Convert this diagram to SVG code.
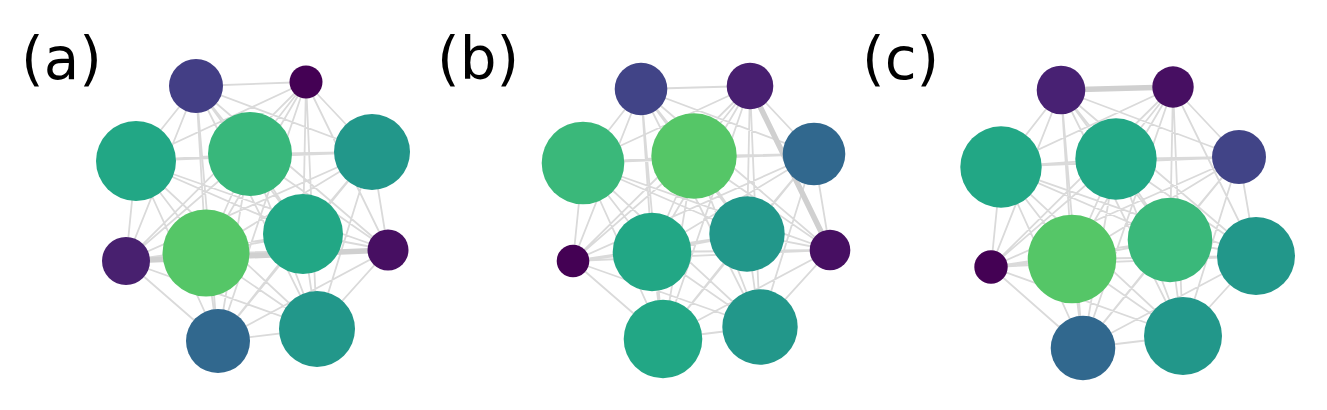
<svg xmlns="http://www.w3.org/2000/svg" width="1327" height="410" viewBox="0 0 1327 410">
<style>
.e{fill:none;stroke:#dadada;stroke-width:1.8;stroke-linecap:round}
.t{fill:none;stroke:#d0d0d0;stroke-width:5.5;stroke-linecap:round}
.lbl{font-family:"DejaVu Sans",sans-serif;font-size:58px;fill:#000}
</style>
<rect width="1327" height="410" fill="#fff"/>
<g id="labels">
<text class="lbl" x="21" y="79">(a)</text>
<text class="lbl" x="437" y="79">(b)</text>
<text class="lbl" x="862" y="79">(c)</text>
</g>
<g id="connectors">
<path class="e" d="M196 86L306 82M196 86L136 161M196 86L250 154M196 86L372 152M196 86L126 261M196 86L206 253M196 86L303 234M196 86L388 250M196 86L218 341M196 86L317 329M306 82L136 161M306 82L250 154M306 82L372 152M306 82L126 261M306 82L206 253M306 82L303 234M306 82L388 250M306 82L218 341M306 82L317 329M136 161L250 154M136 161L372 152M136 161L126 261M136 161L206 253M136 161L303 234M136 161L388 250M136 161L218 341M136 161L317 329M250 154L372 152M250 154L126 261M250 154L206 253M250 154L303 234M250 154L388 250M250 154L218 341M250 154L317 329M372 152L126 261M372 152L206 253M372 152L303 234M372 152L388 250M372 152L218 341M372 152L317 329M126 261L206 253M126 261L303 234M126 261L218 341M126 261L317 329M206 253L303 234M206 253L388 250M206 253L218 341M206 253L317 329M303 234L388 250M303 234L218 341M303 234L317 329M388 250L218 341M388 250L317 329M218 341L317 329"/>
<path class="t" d="M126 261L388 250"/>
<path class="e" d="M641 89L750 86M641 89L583 163M641 89L694 156M641 89L814 154M641 89L573 261M641 89L652 252M641 89L747 234M641 89L830 250M641 89L663 339M641 89L760 327M750 86L583 163M750 86L694 156M750 86L814 154M750 86L573 261M750 86L652 252M750 86L747 234M750 86L663 339M750 86L760 327M583 163L694 156M583 163L814 154M583 163L573 261M583 163L652 252M583 163L747 234M583 163L830 250M583 163L663 339M583 163L760 327M694 156L814 154M694 156L573 261M694 156L652 252M694 156L747 234M694 156L830 250M694 156L663 339M694 156L760 327M814 154L573 261M814 154L652 252M814 154L747 234M814 154L830 250M814 154L663 339M814 154L760 327M573 261L652 252M573 261L747 234M573 261L830 250M573 261L663 339M573 261L760 327M652 252L747 234M652 252L830 250M652 252L663 339M652 252L760 327M747 234L830 250M747 234L663 339M747 234L760 327M830 250L663 339M830 250L760 327M663 339L760 327"/>
<path class="t" d="M750 86L830 250"/>
<path class="e" d="M1061 90L1001 167M1061 90L1116 159M1061 90L1239 157M1061 90L991 267M1061 90L1072 259M1061 90L1170 240M1061 90L1256 256M1061 90L1083 348M1061 90L1183 336M1173 87L1001 167M1173 87L1116 159M1173 87L1239 157M1173 87L991 267M1173 87L1072 259M1173 87L1170 240M1173 87L1256 256M1173 87L1083 348M1173 87L1183 336M1001 167L1116 159M1001 167L1239 157M1001 167L991 267M1001 167L1072 259M1001 167L1170 240M1001 167L1256 256M1001 167L1083 348M1001 167L1183 336M1116 159L1239 157M1116 159L991 267M1116 159L1072 259M1116 159L1170 240M1116 159L1256 256M1116 159L1083 348M1116 159L1183 336M1239 157L991 267M1239 157L1072 259M1239 157L1170 240M1239 157L1256 256M1239 157L1083 348M1239 157L1183 336M991 267L1072 259M991 267L1170 240M991 267L1256 256M991 267L1083 348M991 267L1183 336M1072 259L1170 240M1072 259L1256 256M1072 259L1083 348M1072 259L1183 336M1170 240L1256 256M1170 240L1083 348M1170 240L1183 336M1256 256L1083 348M1256 256L1183 336M1083 348L1183 336"/>
<path class="t" d="M1061 90L1173 87"/>
</g>
<g id="a1"><circle cx="196" cy="86" r="27" fill="#433e85"/></g>
<g id="a2"><circle cx="306" cy="82" r="16.5" fill="#440154"/></g>
<g id="a3"><circle cx="136" cy="161" r="40" fill="#22a785"/></g>
<g id="a4"><circle cx="250" cy="154" r="42" fill="#38b77b"/></g>
<g id="a5"><circle cx="372" cy="152" r="38" fill="#22978a"/></g>
<g id="a6"><circle cx="126" cy="261" r="24" fill="#48206f"/></g>
<g id="a7"><circle cx="206" cy="253" r="43.5" fill="#55c667"/></g>
<g id="a8"><circle cx="303" cy="234" r="40" fill="#22a785"/></g>
<g id="a9"><circle cx="388" cy="250" r="20.5" fill="#470f62"/></g>
<g id="a10"><circle cx="218" cy="341" r="32" fill="#31688e"/></g>
<g id="a11"><circle cx="317" cy="329" r="38" fill="#22978a"/></g>
<g id="b1"><circle cx="641" cy="89" r="26.3" fill="#414487"/></g>
<g id="b2"><circle cx="750" cy="86" r="23.3" fill="#481f70"/></g>
<g id="b3"><circle cx="583" cy="163" r="41.3" fill="#3ab87a"/></g>
<g id="b4"><circle cx="694" cy="156" r="42.7" fill="#55c667"/></g>
<g id="b5"><circle cx="814" cy="154" r="31.3" fill="#31688e"/></g>
<g id="b6"><circle cx="573" cy="261" r="16.3" fill="#440154"/></g>
<g id="b7"><circle cx="652" cy="252" r="39.3" fill="#22a785"/></g>
<g id="b8"><circle cx="747" cy="234" r="37.7" fill="#22978a"/></g>
<g id="b9"><circle cx="830" cy="250" r="20.3" fill="#470f62"/></g>
<g id="b10"><circle cx="663" cy="339" r="39.3" fill="#22a785"/></g>
<g id="b11"><circle cx="760" cy="327" r="37.7" fill="#22978a"/></g>
<g id="c1"><circle cx="1061" cy="90" r="24.3" fill="#482173"/></g>
<g id="c2"><circle cx="1173" cy="87" r="20.7" fill="#470f62"/></g>
<g id="c3"><circle cx="1001" cy="167" r="40.7" fill="#22a785"/></g>
<g id="c4"><circle cx="1116" cy="159" r="40.7" fill="#22a785"/></g>
<g id="c5"><circle cx="1239" cy="157" r="27" fill="#414487"/></g>
<g id="c6"><circle cx="991" cy="267" r="16.7" fill="#440154"/></g>
<g id="c7"><circle cx="1072" cy="259" r="44.3" fill="#55c667"/></g>
<g id="c8"><circle cx="1170" cy="240" r="42.3" fill="#3ab87a"/></g>
<g id="c9"><circle cx="1256" cy="256" r="39" fill="#22978a"/></g>
<g id="c10"><circle cx="1083" cy="348" r="32.3" fill="#31688e"/></g>
<g id="c11"><circle cx="1183" cy="336" r="39" fill="#22978a"/></g>
</svg>
